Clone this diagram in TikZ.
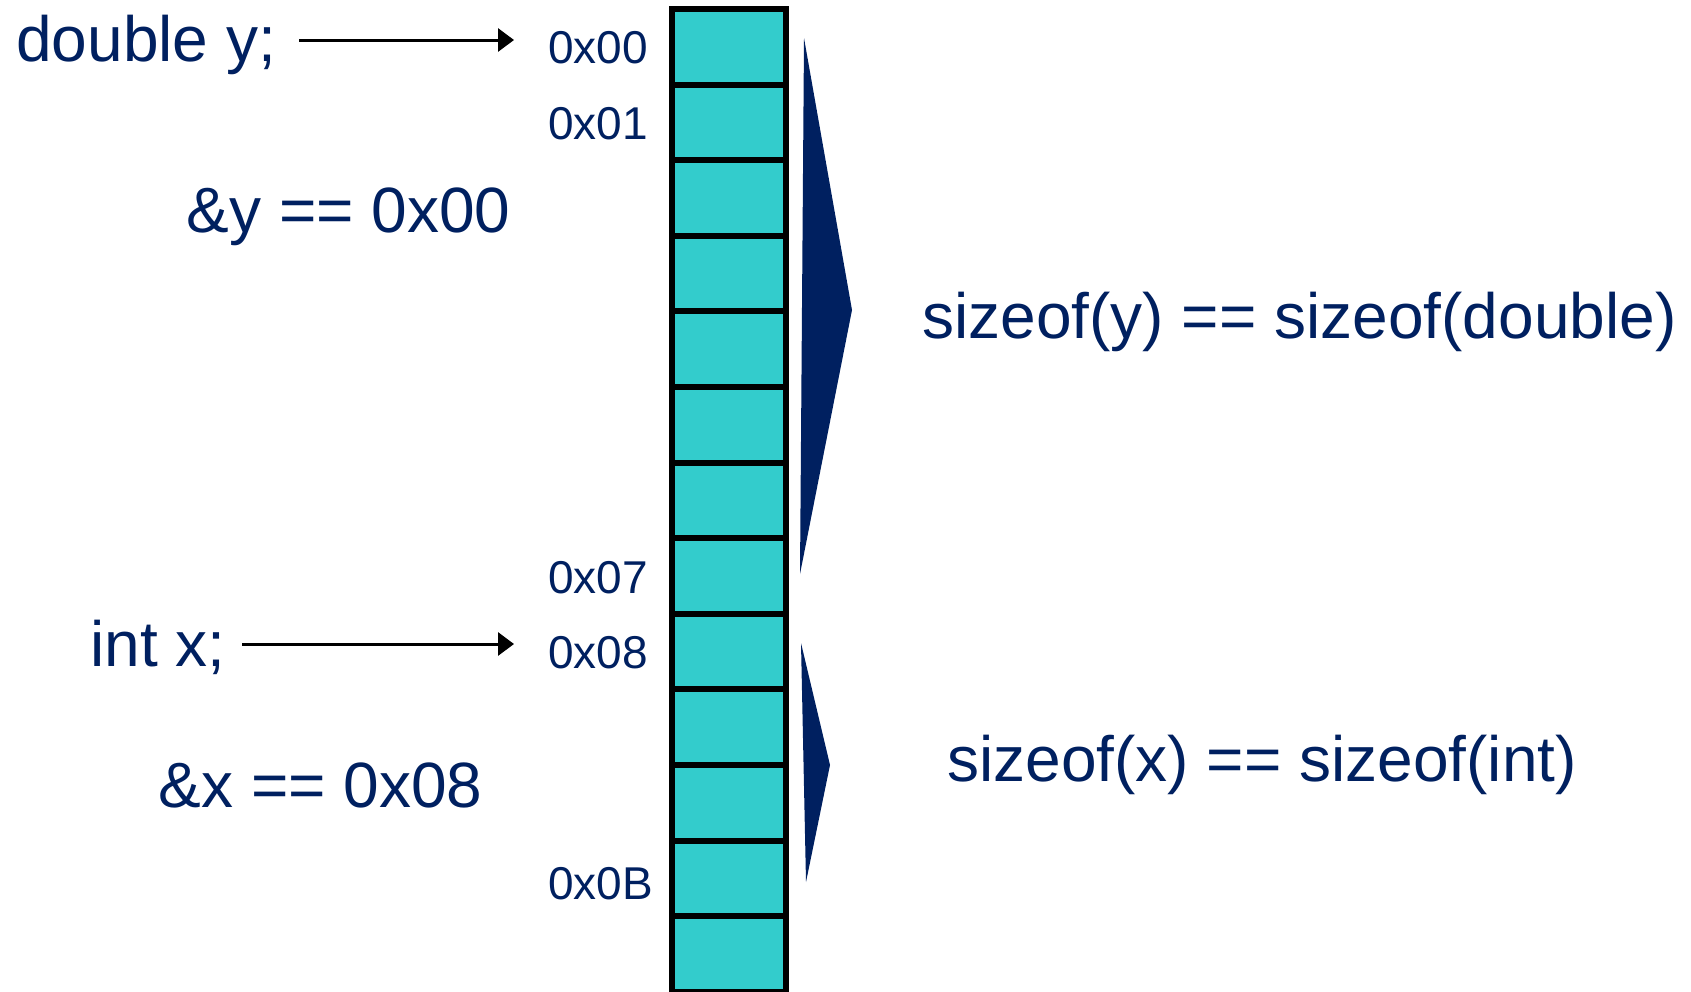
\documentclass[tikz,border=0pt]{standalone}
\usepackage{fontspec}
\setmainfont{Liberation Sans}
\usetikzlibrary{arrows.meta}
\definecolor{navy}{HTML}{002060}
\definecolor{cellcyan}{HTML}{33CCCC}
\tikzset{
  big/.style={text=navy, font=\fontsize{32}{36}\selectfont, inner sep=0pt},
  addr/.style={text=navy, font=\fontsize{23}{26}\selectfont, inner sep=0pt, anchor=base west},
  cell/.style={draw=black, fill=cellcyan, line width=3pt, minimum width=57pt, minimum height=37.8pt, inner sep=0pt},
  ptr/.style={draw=black, line width=1.5pt, -{Triangle[length=8pt,width=11.5pt]}},
  wedge/.style={fill=navy, draw=none}
}
\begin{document}
\begin{tikzpicture}[x=0.5pt,y=-0.5pt]
\useasboundingbox (0,0) rectangle (1691,991);
% memory cells
\foreach \i in {0,...,12} {
  \node[cell] (cell\i) at (729,{9+75.6*(\i+0.5)}) {};
}
% addresses
\node[addr] (a00) at (548,63) {0x00};
\node[addr] (a01) at (548,139) {0x01};
\node[addr] (a07) at (548,593) {0x07};
\node[addr] (a08) at (548,668) {0x08};
\node[addr] (a0B) at (548,899) {0x0B};
% declarations
\node[big, anchor=base west] (dbl) at (16,61) {double y;};
\node[big, anchor=base east] (addry) at (511,232) {\&y == 0x00};
\node[big, anchor=base west] (intx) at (90,666) {int x;};
\node[big, anchor=base east] (addrx) at (483,807) {\&x == 0x08};
% pointers
\coordinate (ys) at (299,40);
\coordinate (ye) at (514,40);
\coordinate (xs) at (242,644);
\coordinate (xe) at (514,644);
\draw[ptr] (ys) -- (ye);
\draw[ptr] (xs) -- (xe);
% size wedges
\fill[wedge] (804,38) -- (852,310) -- (800,574) -- cycle;
\fill[wedge] (801,643) -- (830,765) -- (806,882) -- cycle;
% sizes
\node[big, anchor=base west] (szy) at (922,338) {sizeof(y) == sizeof(double)};
\node[big, anchor=base west] (szx) at (947,781) {sizeof(x) == sizeof(int)};
\end{tikzpicture}
\end{document}
